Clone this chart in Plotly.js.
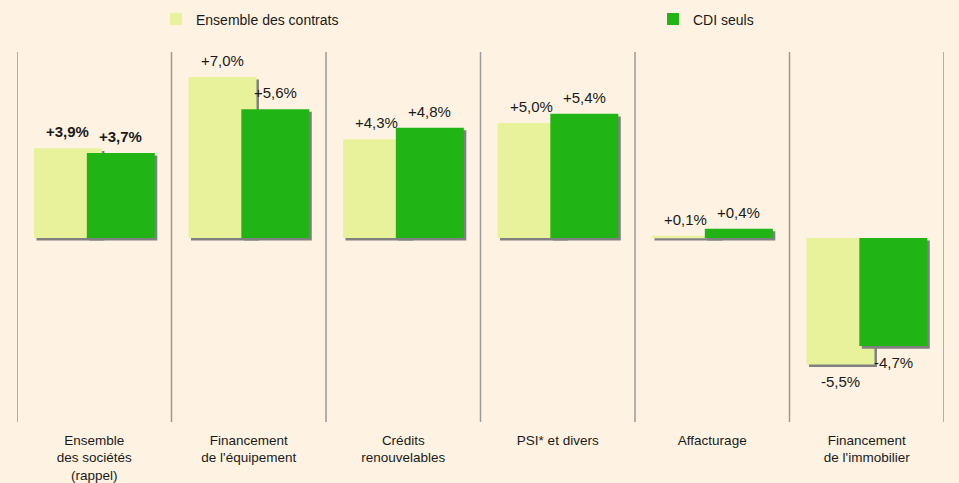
<!DOCTYPE html>
<html>
<head>
<meta charset="utf-8">
<script src="https://cdn.plot.ly/plotly-3.0.1.min.js"></script>
<style>
  html, body { margin: 0; padding: 0; background: #fef3e2; }
  #chart { width: 959px; height: 483px; }
</style>
</head>
<body>
<div id="chart"></div>
<script>
// ============== 数据 ==============
const categories = [
    'Ensemble<br>des sociétés<br>(rappel)',
    'Financement<br>de l\'équipement',
    'Crédits<br>renouvelables',
    'PSI* et divers',
    'Affacturage',
    'Financement<br>de l\'immobilier'
];
const ensembleContrats = [3.9, 7.0, 4.3, 5.0, 0.1, -5.5];
const cdiSeuls = [3.7, 5.6, 4.8, 5.4, 0.4, -4.7];
const seriesNames = ['Ensemble des contrats', 'CDI seuls'];

// ============== 样式 ==============
const LIGHT = '#e8f29a';
const GREEN = '#20b414';
const SHADOW = '#808080';
const FONT = 'Liberation Sans, Arial, sans-serif';
const BAR_W = 0.44;
const SH_DX = 0.016;
const SH_DY = -0.11;

const xs = categories.map((c, i) => i);

const fmt = v => (v > 0 ? '+' : '') + v.toFixed(1).replace('.', ',') + '%';

const barTrace = (vals, offset, color, name, legend) => ({
    type: 'bar',
    x: xs,
    y: vals,
    offset: offset,
    width: BAR_W,
    marker: { color: color, line: { width: 0 } },
    name: name,
    legend: legend,
    hoverinfo: 'skip'
});

// 阴影：向右下偏移的灰色矩形
const shadowTrace = (vals, offset) => ({
    type: 'bar',
    x: xs,
    y: vals,
    base: SH_DY,
    offset: offset + SH_DX,
    width: BAR_W,
    marker: { color: SHADOW, line: { width: 0 } },
    showlegend: false,
    hoverinfo: 'skip'
});

const OFF_LIGHT = -0.39;
const OFF_GREEN = -0.048;

const traces = [
    shadowTrace(ensembleContrats, OFF_LIGHT),
    barTrace(ensembleContrats, OFF_LIGHT, LIGHT, seriesNames[0], 'legend'),
    shadowTrace(cdiSeuls, OFF_GREEN),
    barTrace(cdiSeuls, OFF_GREEN, GREEN, seriesNames[1], 'legend2')
];

// ============== 数值标签 ==============
const labelFor = (v, x, i) => ({
    x: x,
    y: v,
    xref: 'x',
    yref: 'y',
    text: i === 0 ? '<b>' + fmt(v) + '</b>' : fmt(v),
    showarrow: false,
    yanchor: v >= 0 ? 'bottom' : 'top',
    yshift: v >= 0 ? 6 : -6,
    font: { family: FONT, size: 15, color: '#1a1a1a' }
});

const annotations = [];
ensembleContrats.forEach((v, i) => annotations.push(labelFor(v, i + OFF_LIGHT + BAR_W / 2, i)));
cdiSeuls.forEach((v, i) => annotations.push(labelFor(v, i + OFF_GREEN + BAR_W / 2, i)));

// ============== 分隔线 ==============
const shapes = [];
for (let k = 0; k <= categories.length; k++) {
    shapes.push({
        type: 'line',
        xref: 'x', yref: 'paper',
        x0: k - 0.5, x1: k - 0.5, y0: 0, y1: 1,
        line: { color: '#9a9a9a', width: 1.5 },
        layer: 'below'
    });
}

const legendBase = {
    orientation: 'h',
    xref: 'container',
    yref: 'container',
    yanchor: 'middle',
    y: 1 - 19.5 / 483,
    xanchor: 'left',
    bgcolor: 'rgba(0,0,0,0)',
    itemwidth: 30,
    font: { family: FONT, size: 14, color: '#1a1a1a' }
};

const layout = {
    width: 959,
    height: 483,
    margin: { l: 17, r: 15, t: 52, b: 61 },
    paper_bgcolor: '#fef3e2',
    plot_bgcolor: '#fef3e2',
    barmode: 'overlay',
    font: { family: FONT, size: 14, color: '#1a1a1a' },
    xaxis: {
        range: [-0.5, categories.length - 0.5],
        tickvals: xs,
        ticktext: categories,
        showgrid: false,
        zeroline: false,
        showline: false,
        ticks: '',
        ticklabelstandoff: 8,
        tickfont: { family: FONT, size: 13.5, color: '#1a1a1a' },
        fixedrange: true
    },
    yaxis: {
        range: [-8, 8.09],
        visible: false,
        showgrid: false,
        zeroline: false,
        fixedrange: true
    },
    legend: Object.assign({}, legendBase, { x: 156 / 959 }),
    legend2: Object.assign({}, legendBase, { x: 653 / 959 }),
    shapes: shapes,
    annotations: annotations
};

Plotly.newPlot('chart', traces, layout, { displayModeBar: false, staticPlot: true });
</script>
</body>
</html>
